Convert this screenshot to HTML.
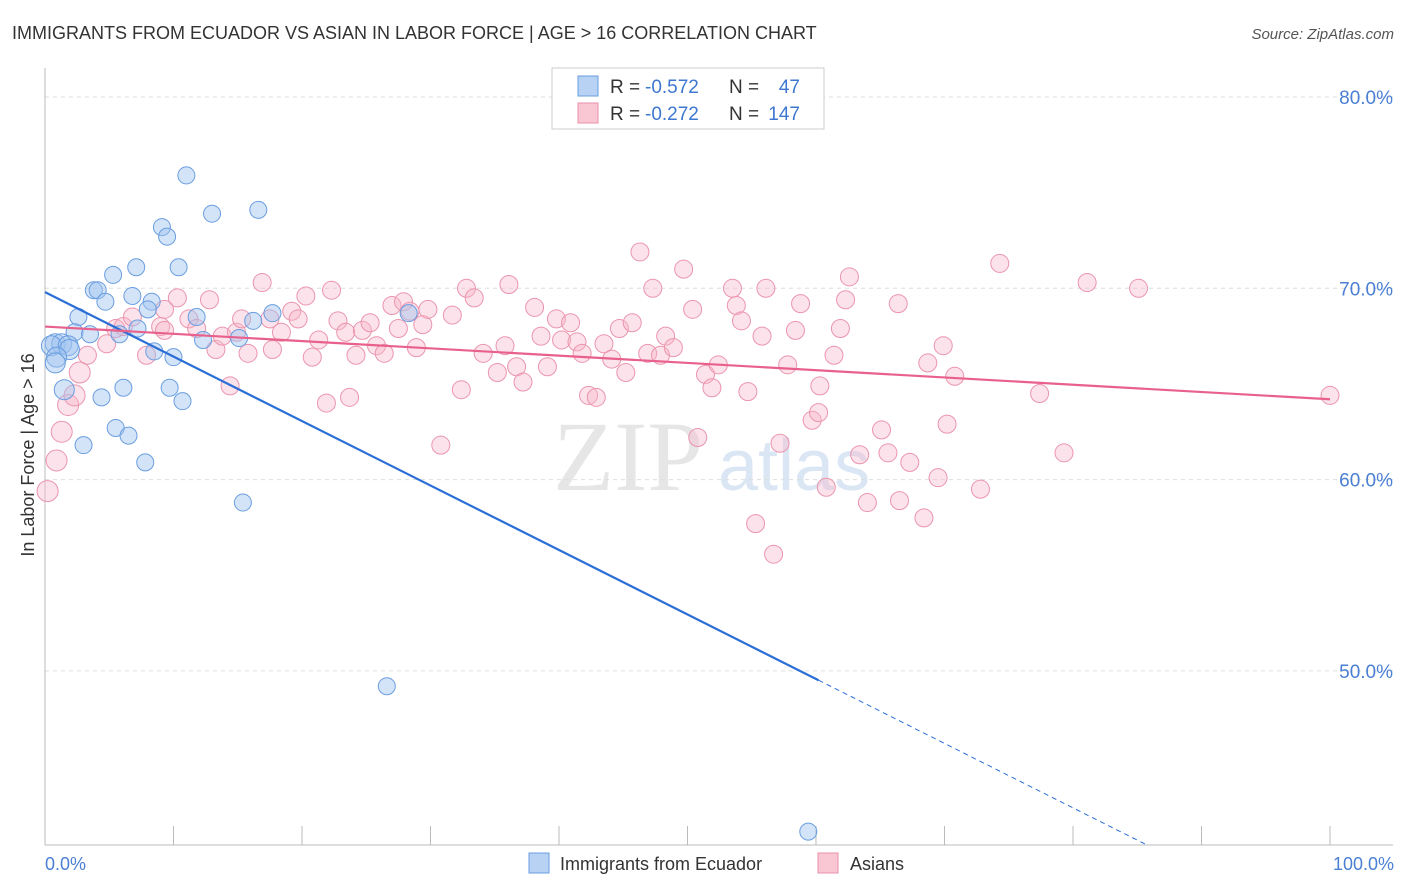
<!DOCTYPE html>
<html><head><meta charset="utf-8"><style>
body{margin:0;background:#fff;font-family:"Liberation Sans",sans-serif;}
svg{display:block}
</style></head><body>
<svg id="chart" width="1406" height="892">
<text x="12" y="39" font-size="18" fill="#333">IMMIGRANTS FROM ECUADOR VS ASIAN IN LABOR FORCE | AGE &gt; 16 CORRELATION CHART</text>
<text x="1394" y="39" font-size="15" fill="#555" font-style="italic" text-anchor="end">Source: ZipAtlas.com</text>
<text x="553" y="490" font-size="100" fill="#e6e6e6" font-family="Liberation Serif,serif">ZIP</text>
<text x="718" y="490" font-size="72" fill="#dbe6f5">atlas</text>
<g id="grid"></g><g id="pts"></g><g id="lines"></g>
<text transform="translate(34,455) rotate(-90)" font-size="18" fill="#333" text-anchor="middle">In Labor Force | Age &gt; 16</text>
<text x="45" y="870" font-size="18" fill="#4a7fd4">0.0%</text>
<text x="1394" y="870" font-size="18" fill="#4a7fd4" text-anchor="end">100.0%</text>
<g>
<rect x="552" y="68" width="272" height="61" fill="#fff" stroke="#ccc"/>
<rect x="578" y="76" width="20" height="20" fill="#b8d2f4" stroke="#6a9ee0"/>
<rect x="578" y="103" width="20" height="20" fill="#f9c6d4" stroke="#e890aa"/>
<text x="610" y="93" font-size="19" fill="#333">R =</text>
<text x="645" y="93" font-size="19" fill="#3d77d0">-0.572</text>
<text x="729" y="93" font-size="19" fill="#333">N =</text>
<text x="800" y="93" font-size="19" fill="#3d77d0" text-anchor="end">47</text>
<text x="610" y="120" font-size="19" fill="#333">R =</text>
<text x="645" y="120" font-size="19" fill="#3d77d0">-0.272</text>
<text x="729" y="120" font-size="19" fill="#333">N =</text>
<text x="800" y="120" font-size="19" fill="#3d77d0" text-anchor="end">147</text>
</g>
<g>
<rect x="529" y="853" width="20" height="20" fill="#b8d2f4" stroke="#6a9ee0"/>
<text x="560" y="870" font-size="18" fill="#333">Immigrants from Ecuador</text>
<rect x="818" y="853" width="20" height="20" fill="#f9c6d4" stroke="#e890aa"/>
<text x="850" y="870" font-size="18" fill="#333">Asians</text>
</g>
</svg>
<script>
const yTicks=[50,60,70,80];
const blueX=[11.0,13.0,16.6,9.1,9.5,7.1,10.4,5.3,3.8,4.1,6.8,4.7,8.3,8.0,2.6,11.8,16.2,17.7,28.3,7.2,2.3,3.5,5.8,12.3,15.1,0.8,1.3,0.5,1.8,1.9,8.5,10.0,0.9,0.8,1.5,6.1,4.4,9.7,10.7,5.5,6.5,3.0,7.8,15.4,26.6,59.4];
const blueY=[75.9,73.9,74.1,73.2,72.7,71.1,71.1,70.7,69.9,69.9,69.6,69.3,69.3,68.9,68.5,68.5,68.3,68.7,68.7,67.9,67.7,67.6,67.6,67.3,67.4,67.1,67.1,67.0,67.0,66.8,66.7,66.4,66.4,66.1,64.7,64.8,64.3,64.8,64.1,62.7,62.3,61.8,60.9,58.8,49.2,41.6];
const pinkX=[0.2,0.9,1.3,1.8,2.3,2.7,3.3,4.8,5.5,6.1,6.8,7.9,9.0,9.3,10.3,9.3,11.2,11.8,12.8,13.3,13.8,14.4,14.9,15.3,15.8,16.9,17.5,17.7,18.4,19.2,19.7,20.3,20.8,21.3,21.9,22.3,22.8,23.4,23.7,24.2,24.7,25.3,25.8,26.4,27.0,27.5,27.9,28.4,28.9,29.4,29.8,30.8,31.7,32.4,32.8,33.4,34.1,35.2,35.8,36.1,36.7,37.2,38.1,38.6,39.1,39.8,40.2,40.9,41.4,41.8,42.3,42.9,43.5,44.1,44.7,45.2,45.7,46.3,46.9,47.3,47.9,48.3,48.9,49.7,50.4,50.8,51.4,51.9,52.4,53.5,53.8,54.2,54.7,55.3,55.8,56.1,56.7,57.2,57.8,58.4,58.8,59.7,60.2,60.3,60.8,61.4,61.9,62.3,62.6,63.4,64.0,65.1,65.6,66.5,66.4,67.3,68.4,68.7,69.5,69.9,70.2,70.8,72.8,74.3,77.4,79.3,81.1,85.1,100];
const pinkY=[59.4,61.0,62.5,63.9,64.4,65.6,66.5,67.1,67.9,68.0,68.5,66.5,68.0,67.8,69.5,68.9,68.4,67.9,69.4,66.8,67.5,64.9,67.7,68.4,66.6,70.3,68.4,66.8,67.7,68.8,68.4,69.6,66.4,67.3,64.0,69.9,68.3,67.7,64.3,66.5,67.8,68.2,67.0,66.6,69.1,67.9,69.3,68.8,66.9,68.1,68.9,61.8,68.6,64.7,70.0,69.5,66.6,65.6,67.0,70.2,65.9,65.1,69.0,67.5,65.9,68.4,67.3,68.2,67.2,66.6,64.4,64.3,67.1,66.3,67.9,65.6,68.2,71.9,66.6,70.0,66.5,67.5,66.9,71.0,68.9,62.2,65.5,64.8,66.0,70.0,69.1,68.3,64.6,57.7,67.5,70.0,56.1,61.9,66.0,67.8,69.2,63.1,63.5,64.9,59.6,66.5,67.9,69.4,70.6,61.3,58.8,62.6,61.4,58.9,69.2,60.9,58.0,66.1,60.1,67.0,62.9,65.4,59.5,71.3,64.5,61.4,70.3,70.0,64.4];
const blueTrend=[69.8,-0.337];
const pinkTrend=[68.0,-0.038];
const sx=v=>45+v*12.85;
const sy=v=>97+(80-v)*19.13;
const NS='http://www.w3.org/2000/svg';
function mk(tag,attrs,parent){const e=document.createElementNS(NS,tag);for(const k in attrs)e.setAttribute(k,attrs[k]);parent.appendChild(e);return e;}
const grid=document.getElementById('grid');
yTicks.forEach(t=>{
 const l=mk('line',{x1:45,x2:1393,y1:sy(t),y2:sy(t),stroke:'#ddd','stroke-dasharray':'4,4'},grid);
 
 
 const tx=mk('text',{x:1393,y:sy(t)+7,'font-size':19,fill:'#4a7fd4','text-anchor':'end'},grid);
 tx.textContent=t.toFixed(1)+'%';
 
 
});
const ax=mk('line',{x1:45,x2:45,y1:68,y2:845,stroke:'#bbb'},grid);


const bx=mk('line',{x1:45,x2:1393,y1:845,y2:845,stroke:'#bbb'},grid);


for(let i=0;i<=10;i++){
 const t=mk('line',{x1:sx(i*10),x2:sx(i*10),y1:826,y2:845,stroke:'#bbb'},grid);
 
 
}
const pts=document.getElementById('pts');
pinkX.forEach((x,i)=>{
 const c=mk('circle',{cx:sx(x),cy:sy(pinkY[i]),r:x<3?10.5:9,fill:'rgba(248,182,202,0.4)',stroke:'#eb95ae','stroke-width':1},pts);
 
 
});
blueX.forEach((x,i)=>{
 const c=mk('circle',{cx:sx(x),cy:sy(blueY[i]),r:x<2?10:8.5,fill:'rgba(160,196,240,0.45)',stroke:'#6a9ee0','stroke-width':1},pts);
 
 
});
const lines=document.getElementById('lines');
const bEnd=60.2, bStop=(blueTrend[0]-40.9)/-blueTrend[1];
const l1=mk('line',{x1:sx(0),y1:sy(blueTrend[0]),x2:sx(bEnd),y2:sy(blueTrend[0]+blueTrend[1]*bEnd),stroke:'#2b6fd6','stroke-width':2.2},lines);


const l2=mk('line',{x1:sx(bEnd),y1:sy(blueTrend[0]+blueTrend[1]*bEnd),x2:sx(bStop),y2:sy(40.9),stroke:'#2b6fd6','stroke-width':1,'stroke-dasharray':'5,4'},lines);


const l3=mk('line',{x1:sx(0),y1:sy(pinkTrend[0]),x2:sx(100),y2:sy(pinkTrend[0]+pinkTrend[1]*100),stroke:'#e8608c','stroke-width':2.2},lines);


</script>
</body></html>
